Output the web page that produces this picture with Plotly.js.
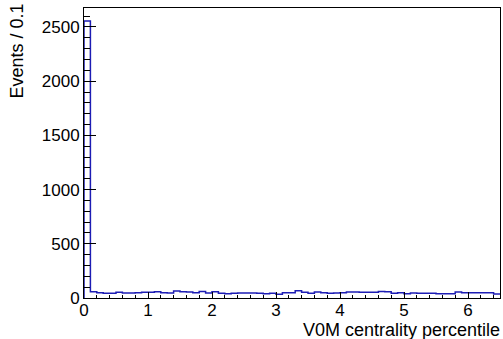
<!DOCTYPE html>
<html>
<head>
<meta charset="utf-8">
<script src="https://cdn.plot.ly/plotly-3.0.1.min.js"></script>
<style>html,body{margin:0;padding:0;background:#fff;}#chart{width:503px;height:339px;}</style>
</head>
<body>
<div id="chart"></div>
<script>
// Histogram: V0M centrality percentile, bin width 0.1, range 0 - 6.5
const binWidth = 0.1;
const xMin = 0;
const counts = [
  2555, 58, 49, 43, 43, 52, 46, 46, 49, 52,
  52, 58, 49, 46, 64, 58, 55, 49, 61, 46,
  58, 43, 40, 43, 46, 46, 46, 43, 40, 43,
  34, 49, 49, 67, 52, 43, 55, 49, 43, 46,
  49, 55, 55, 52, 52, 52, 61, 58, 43, 49,
  40, 46, 43, 43, 43, 40, 40, 40, 55, 49,
  49, 49, 49, 49, 37
];
const xTickVals = [0, 1, 2, 3, 4, 5, 6];
const yTickVals = [0, 500, 1000, 1500, 2000, 2500];

// step outline built from bin edges
const edges = counts.map((_, i) => +(xMin + i * binWidth).toFixed(2));
const stepX = [xMin].concat(edges, [+(xMin + counts.length * binWidth).toFixed(2)]);
const stepY = [0].concat(counts, [counts[counts.length - 1]]);

const tickFont = {family: 'Liberation Sans, Arial, sans-serif', size: 17, color: '#000'};
const titleFont = {family: 'Liberation Sans, Arial, sans-serif', size: 18, color: '#000'};

const trace = {
  type: 'scatter', mode: 'lines',
  x: stepX, y: stepY,
  line: {shape: 'hv', color: '#1c1cb4', width: 1.5},
  hoverinfo: 'skip'
};

const layout = {
  width: 503, height: 339,
  margin: {l: 84, r: 3, t: 8, b: 41},
  paper_bgcolor: '#fff', plot_bgcolor: '#fff',
  showlegend: false,
  font: tickFont,
  xaxis: {
    range: [0, 6.5], tickvals: xTickVals, ticktext: xTickVals.map(String),
    ticks: 'inside', ticklen: 6, tickwidth: 1, tickcolor: '#000',
    ticklabelstandoff: -3,
    minor: {dtick: 0.2, tick0: 0, ticks: 'inside', ticklen: 3, tickcolor: '#000', showgrid: false},
    showline: true, linecolor: '#000', linewidth: 1, mirror: true,
    showgrid: false, zeroline: false, tickfont: tickFont,
    title: {text: ''}
  },
  yaxis: {
    range: [0, 2675], tickvals: yTickVals, ticktext: yTickVals.map(String),
    ticks: 'inside', ticklen: 12, tickwidth: 1, tickcolor: '#000',
    minor: {dtick: 100, tick0: 0, ticks: 'inside', ticklen: 6, tickcolor: '#000', showgrid: false},
    showline: true, linecolor: '#000', linewidth: 1, mirror: true,
    showgrid: false, zeroline: false, tickfont: tickFont,
    title: {text: ''}
  },
  annotations: [
    {text: 'V0M centrality percentile', xref: 'paper', yref: 'paper', x: 1, y: 0,
     xanchor: 'right', yanchor: 'top', yshift: -20, xshift: 2, showarrow: false, font: titleFont},
    {text: 'Events / 0.1', xref: 'paper', yref: 'paper', x: 0, y: 1, textangle: -90,
     xanchor: 'left', yanchor: 'top', xshift: -80, yshift: 6, showarrow: false, font: titleFont}
  ]
};

Plotly.newPlot('chart', [trace], layout, {staticPlot: true, displayModeBar: false});
</script>
</body>
</html>
